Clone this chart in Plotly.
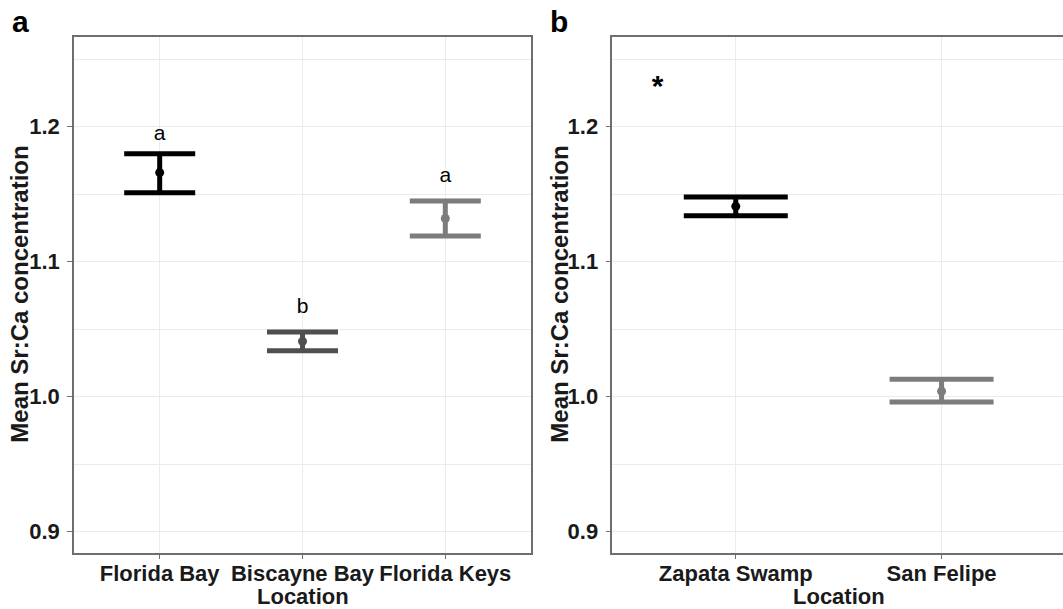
import plotly.graph_objects as go

# ---------------- data ----------------
locations_a = ["Florida Bay", "Biscayne Bay", "Florida Keys"]
mean_a = [1.166, 1.041, 1.132]
upper_a = [1.180, 1.048, 1.145]
lower_a = [1.151, 1.034, 1.119]
letters_a = ["a", "b", "a"]
letter_y_a = [1.194, 1.066, 1.163]
colors_a = ["#000000", "#4f4f4f", "#7c7c7c"]

locations_b = ["Zapata Swamp", "San Felipe"]
mean_b = [1.141, 1.004]
upper_b = [1.148, 1.013]
lower_b = [1.134, 0.996]
colors_b = ["#000000", "#7c7c7c"]
star_b = ["*"]
star_x_b = [-0.38]
star_y_b = [1.228]

y_ticks = [0.9, 1.0, 1.1, 1.2]
y_range = [0.8844, 1.2667]

FONT = "Liberation Sans, Arial, Helvetica, sans-serif"
W, H = 1063, 609

fig = go.Figure()

def add_panel(locs, means, ups, lows, colors, xa, ya, capw):
    for i, (m, u, l, c) in enumerate(zip(means, ups, lows, colors)):
        fig.add_trace(go.Scatter(
            x=[i], y=[m], mode="markers", name=locs[i],
            marker=dict(color=c, size=9, symbol="circle"),
            error_y=dict(type="data", symmetric=False,
                         array=[u - m], arrayminus=[m - l],
                         color=c, thickness=5, width=capw),
            xaxis=xa, yaxis=ya, showlegend=False, hoverinfo="skip"))

add_panel(locations_a, mean_a, upper_a, lower_a, colors_a, "x", "y", 35.5)
add_panel(locations_b, mean_b, upper_b, lower_b, colors_b, "x2", "y2", 52)

# significance letters
fig.add_trace(go.Scatter(
    x=list(range(len(locations_a))), y=letter_y_a, mode="text", text=letters_a,
    textfont=dict(family=FONT, size=21, color="#000000"),
    xaxis="x", yaxis="y", showlegend=False, hoverinfo="skip"))
fig.add_trace(go.Scatter(
    x=star_x_b, y=star_y_b, mode="text", text=star_b,
    textfont=dict(family=FONT, size=30, color="#000000", weight="bold"),
    xaxis="x2", yaxis="y2", showlegend=False, hoverinfo="skip"))

y_dom = [1 - 552.7 / H, 1 - 36.7 / H]
xa_dom = [74 / W, 531 / W]
xb_dom = [612.3 / W, 1.0]

LINE = "#6e6e6e"
GRID = "#ebebeb"
tickfont = dict(family=FONT, size=22, color="#1a1a1a", weight="bold")

def xaxis_cfg(dom, cats, rng, anchor):
    return dict(domain=dom, anchor=anchor, range=rng,
                tickvals=list(range(len(cats))), ticktext=cats,
                showline=True, linecolor=LINE, linewidth=1.5, mirror=True,
                ticks="outside", ticklen=5, tickcolor=LINE, tickwidth=1.2,
                showgrid=True, gridcolor=GRID, gridwidth=1,
                tickfont=tickfont, zeroline=False, fixedrange=True,
                ticklabelstandoff=-5, automargin=False)

def yaxis_cfg(anchor, mirror):
    return dict(domain=y_dom, range=y_range, anchor=anchor,
                tickvals=y_ticks, ticktext=[f"{v:.1f}" for v in y_ticks],
                showline=True, linecolor=LINE, linewidth=1.5, mirror=mirror,
                ticks="outside", ticklen=5, tickcolor=LINE, tickwidth=1.2,
                showgrid=True, gridcolor=GRID, gridwidth=1,
                minor=dict(dtick=0.05, tick0=0.85, showgrid=True,
                           gridcolor=GRID, gridwidth=1, ticks=""),
                tickfont=tickfont, zeroline=False, fixedrange=True,
                ticklabelstandoff=3, automargin=False)

title_font = dict(family=FONT, size=22, color="#1a1a1a", weight="bold")
ytitle_font = dict(family=FONT, size=24, color="#1a1a1a", weight="bold")
panel_font = dict(family=FONT, size=30, color="#000000", weight="bold")

annotations = [
    dict(text="Location", x=(xa_dom[0] + xa_dom[1]) / 2, y=1 - 596.5 / H,
         xref="paper", yref="paper", showarrow=False, font=title_font,
         xanchor="center", yanchor="middle"),
    dict(text="Location", x=(612.3 + 1065) / 2 / W, y=1 - 596.5 / H,
         xref="paper", yref="paper", showarrow=False, font=title_font,
         xanchor="center", yanchor="middle"),
    dict(text="Mean Sr:Ca concentration", x=20 / W, y=(y_dom[0] + y_dom[1]) / 2,
         xref="paper", yref="paper", showarrow=False, font=ytitle_font,
         textangle=-90, xanchor="center", yanchor="middle"),
    dict(text="Mean Sr:Ca concentration", x=560 / W, y=(y_dom[0] + y_dom[1]) / 2,
         xref="paper", yref="paper", showarrow=False, font=ytitle_font,
         textangle=-90, xanchor="center", yanchor="middle"),
    dict(text="a", x=20 / W, y=1 - 22 / H, xref="paper", yref="paper",
         showarrow=False, font=panel_font, xanchor="center", yanchor="middle"),
    dict(text="b", x=559 / W, y=1 - 22 / H, xref="paper", yref="paper",
         showarrow=False, font=panel_font, xanchor="center", yanchor="middle"),
]

fig.update_layout(
    width=W, height=H,
    margin=dict(l=0, r=0, t=0, b=0),
    paper_bgcolor="white", plot_bgcolor="white",
    xaxis=xaxis_cfg(xa_dom, locations_a, [-0.6, 2.6], "y"),
    yaxis=yaxis_cfg("x", True),
    xaxis2=xaxis_cfg(xb_dom, locations_b, [-0.6, 1.59], "y2"),
    yaxis2=yaxis_cfg("x2", False),
    annotations=annotations,
    showlegend=False,
)

fig.write_html("out.html")
